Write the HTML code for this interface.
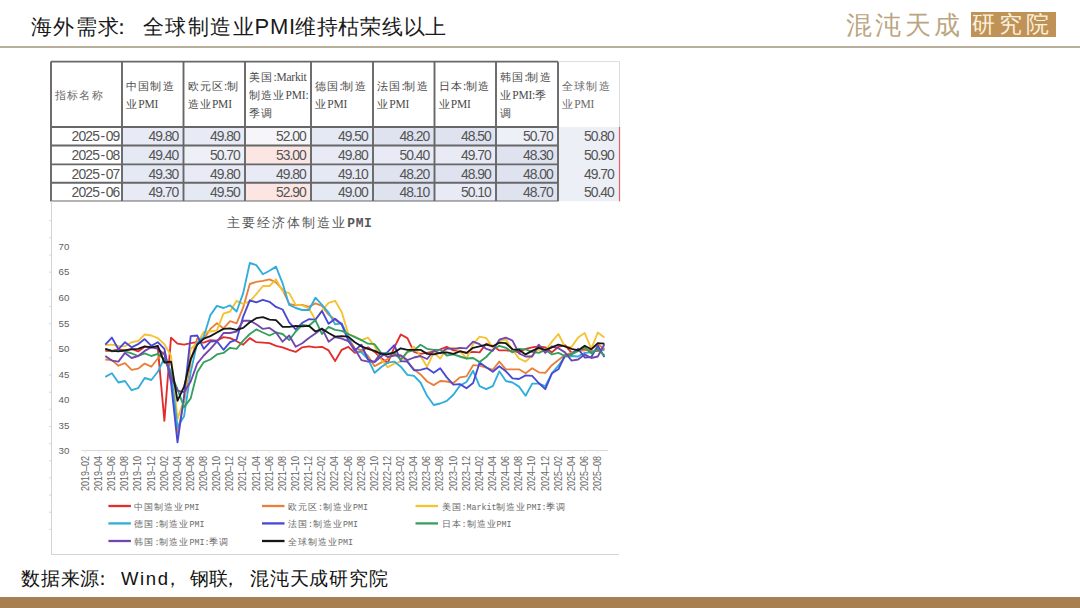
<!DOCTYPE html>
<html><head><meta charset="utf-8">
<style>
html,body{margin:0;padding:0;}
body{width:1080px;height:608px;position:relative;overflow:hidden;background:#ffffff;font-family:"Liberation Sans",sans-serif;}
.t{position:absolute;white-space:nowrap;}
svg{position:absolute;left:0;top:0;}
</style></head><body>
<div class="t" id="title" style="left:31px;top:12px;font-size:21px;color:#1a1a1a;line-height:30px;"><span style="letter-spacing:1.4px">海外需求<span style="position:relative;left:-10px">：</span>全球制造业</span><span style="letter-spacing:0.8px;font-size:22px;margin-left:-0.5px">PMI</span><span style="letter-spacing:0.7px;margin-left:-1px">维持枯荣线以上</span></div>
<div style="position:absolute;left:0;top:46px;width:1080px;height:2px;background:#b8ae9c;"></div>
<div class="t" id="logo1" style="left:846px;top:9px;font-size:26px;line-height:32px;color:#bba67f;font-weight:300;letter-spacing:3.4px;">混沌天成</div>
<div style="position:absolute;left:970.5px;top:12px;width:85px;height:25px;background:#bf9357;"></div>
<div class="t" id="logo2" style="left:972px;top:10px;font-size:23px;line-height:28px;color:#fbf0dc;font-weight:300;letter-spacing:4px;">研究院</div>
<svg width="1080" height="608" viewBox="0 0 1080 608" font-family="Liberation Sans, sans-serif">
<rect x="51" y="61.6" width="568" height="140" fill="#fff"/>
<rect x="558" y="127" width="61" height="74.4" fill="#eceff6"/>
<rect x="122" y="127" width="61.5" height="18.5" fill="#e8ebf5"/>
<rect x="183.5" y="127" width="61.5" height="18.5" fill="#e8ebf5"/>
<rect x="245" y="127" width="66" height="18.5" fill="#f6f6fa"/>
<rect x="311" y="127" width="62" height="18.5" fill="#e5e9f4"/>
<rect x="373" y="127" width="61.5" height="18.5" fill="#dfe3f0"/>
<rect x="434.5" y="127" width="61.5" height="18.5" fill="#dfe3f0"/>
<rect x="496" y="127" width="62" height="18.5" fill="#eef0f8"/>
<rect x="122" y="145.5" width="61.5" height="18.900000000000006" fill="#e5e9f4"/>
<rect x="183.5" y="145.5" width="61.5" height="18.900000000000006" fill="#eef0f8"/>
<rect x="245" y="145.5" width="66" height="18.900000000000006" fill="#fbe6e4"/>
<rect x="311" y="145.5" width="62" height="18.900000000000006" fill="#e8ebf5"/>
<rect x="373" y="145.5" width="61.5" height="18.900000000000006" fill="#e8ebf5"/>
<rect x="434.5" y="145.5" width="61.5" height="18.900000000000006" fill="#e8ebf5"/>
<rect x="496" y="145.5" width="62" height="18.900000000000006" fill="#dfe3f0"/>
<rect x="122" y="164.4" width="61.5" height="18.400000000000006" fill="#e5e9f4"/>
<rect x="183.5" y="164.4" width="61.5" height="18.400000000000006" fill="#e8ebf5"/>
<rect x="245" y="164.4" width="66" height="18.400000000000006" fill="#e8ebf5"/>
<rect x="311" y="164.4" width="62" height="18.400000000000006" fill="#e5e9f4"/>
<rect x="373" y="164.4" width="61.5" height="18.400000000000006" fill="#dfe3f0"/>
<rect x="434.5" y="164.4" width="61.5" height="18.400000000000006" fill="#dfe3f0"/>
<rect x="496" y="164.4" width="62" height="18.400000000000006" fill="#dfe3f0"/>
<rect x="122" y="182.8" width="61.5" height="18.599999999999994" fill="#e8ebf5"/>
<rect x="183.5" y="182.8" width="61.5" height="18.599999999999994" fill="#e5e9f4"/>
<rect x="245" y="182.8" width="66" height="18.599999999999994" fill="#fbe6e4"/>
<rect x="311" y="182.8" width="62" height="18.599999999999994" fill="#e5e9f4"/>
<rect x="373" y="182.8" width="61.5" height="18.599999999999994" fill="#dfe3f0"/>
<rect x="434.5" y="182.8" width="61.5" height="18.599999999999994" fill="#e8ebf5"/>
<rect x="496" y="182.8" width="62" height="18.599999999999994" fill="#dfe3f0"/>
<text x="55" y="98.8" font-size="11" fill="#6a6a6a" font-family="Liberation Serif, serif"><tspan letter-spacing="1.2" font-weight="500">指标名称</tspan></text>
<text x="126" y="89.6" font-size="11" fill="#4a4a4a" font-family="Liberation Serif, serif"><tspan letter-spacing="1.2" font-weight="500">中国制造</tspan></text>
<text x="126" y="108.0" font-size="11" fill="#4a4a4a" font-family="Liberation Serif, serif"><tspan letter-spacing="1.2" font-weight="500">业</tspan><tspan font-size="11.5" letter-spacing="-0.2">PMI</tspan></text>
<text x="187.5" y="89.6" font-size="11" fill="#4a4a4a" font-family="Liberation Serif, serif"><tspan letter-spacing="1.2" font-weight="500">欧元区</tspan><tspan font-size="11.5" letter-spacing="-0.2">:</tspan><tspan letter-spacing="1.2" font-weight="500">制</tspan></text>
<text x="187.5" y="108.0" font-size="11" fill="#4a4a4a" font-family="Liberation Serif, serif"><tspan letter-spacing="1.2" font-weight="500">造业</tspan><tspan font-size="11.5" letter-spacing="-0.2">PMI</tspan></text>
<text x="249" y="80.5" font-size="11" fill="#4a4a4a" font-family="Liberation Serif, serif"><tspan letter-spacing="1.2" font-weight="500">美国</tspan><tspan font-size="11.5" letter-spacing="-0.2">:Markit</tspan></text>
<text x="249" y="98.8" font-size="11" fill="#4a4a4a" font-family="Liberation Serif, serif"><tspan letter-spacing="1.2" font-weight="500">制造业</tspan><tspan font-size="11.5" letter-spacing="-0.2">PMI:</tspan></text>
<text x="249" y="117.1" font-size="11" fill="#4a4a4a" font-family="Liberation Serif, serif"><tspan letter-spacing="1.2" font-weight="500">季调</tspan></text>
<text x="315" y="89.6" font-size="11" fill="#4a4a4a" font-family="Liberation Serif, serif"><tspan letter-spacing="1.2" font-weight="500">德国</tspan><tspan font-size="11.5" letter-spacing="-0.2">:</tspan><tspan letter-spacing="1.2" font-weight="500">制造</tspan></text>
<text x="315" y="108.0" font-size="11" fill="#4a4a4a" font-family="Liberation Serif, serif"><tspan letter-spacing="1.2" font-weight="500">业</tspan><tspan font-size="11.5" letter-spacing="-0.2">PMI</tspan></text>
<text x="377" y="89.6" font-size="11" fill="#4a4a4a" font-family="Liberation Serif, serif"><tspan letter-spacing="1.2" font-weight="500">法国</tspan><tspan font-size="11.5" letter-spacing="-0.2">:</tspan><tspan letter-spacing="1.2" font-weight="500">制造</tspan></text>
<text x="377" y="108.0" font-size="11" fill="#4a4a4a" font-family="Liberation Serif, serif"><tspan letter-spacing="1.2" font-weight="500">业</tspan><tspan font-size="11.5" letter-spacing="-0.2">PMI</tspan></text>
<text x="438.5" y="89.6" font-size="11" fill="#4a4a4a" font-family="Liberation Serif, serif"><tspan letter-spacing="1.2" font-weight="500">日本</tspan><tspan font-size="11.5" letter-spacing="-0.2">:</tspan><tspan letter-spacing="1.2" font-weight="500">制造</tspan></text>
<text x="438.5" y="108.0" font-size="11" fill="#4a4a4a" font-family="Liberation Serif, serif"><tspan letter-spacing="1.2" font-weight="500">业</tspan><tspan font-size="11.5" letter-spacing="-0.2">PMI</tspan></text>
<text x="500" y="80.5" font-size="11" fill="#4a4a4a" font-family="Liberation Serif, serif"><tspan letter-spacing="1.2" font-weight="500">韩国</tspan><tspan font-size="11.5" letter-spacing="-0.2">:</tspan><tspan letter-spacing="1.2" font-weight="500">制造</tspan></text>
<text x="500" y="98.8" font-size="11" fill="#4a4a4a" font-family="Liberation Serif, serif"><tspan letter-spacing="1.2" font-weight="500">业</tspan><tspan font-size="11.5" letter-spacing="-0.2">PMI:</tspan><tspan letter-spacing="1.2" font-weight="500">季</tspan></text>
<text x="500" y="117.1" font-size="11" fill="#4a4a4a" font-family="Liberation Serif, serif"><tspan letter-spacing="1.2" font-weight="500">调</tspan></text>
<text x="562" y="89.6" font-size="11" fill="#6a6a6a" font-family="Liberation Serif, serif"><tspan letter-spacing="1.2" font-weight="500">全球制造</tspan></text>
<text x="562" y="108.0" font-size="11" fill="#6a6a6a" font-family="Liberation Serif, serif"><tspan letter-spacing="1.2" font-weight="500">业</tspan><tspan font-size="11.5" letter-spacing="-0.2">PMI</tspan></text>
<text x="119.5" y="141.4" text-anchor="end" font-size="13.9" letter-spacing="-0.8" fill="#545454">2025<tspan dx="1.2">-</tspan><tspan dx="1.4">09</tspan></text>
<text x="178.3" y="141.4" text-anchor="end" font-size="13.9" letter-spacing="-1.0" fill="#545454">49.80</text>
<text x="239.8" y="141.4" text-anchor="end" font-size="13.9" letter-spacing="-1.0" fill="#545454">49.80</text>
<text x="305.8" y="141.4" text-anchor="end" font-size="13.9" letter-spacing="-1.0" fill="#545454">52.00</text>
<text x="367.8" y="141.4" text-anchor="end" font-size="13.9" letter-spacing="-1.0" fill="#545454">49.50</text>
<text x="429.3" y="141.4" text-anchor="end" font-size="13.9" letter-spacing="-1.0" fill="#545454">48.20</text>
<text x="490.8" y="141.4" text-anchor="end" font-size="13.9" letter-spacing="-1.0" fill="#545454">48.50</text>
<text x="552.8" y="141.4" text-anchor="end" font-size="13.9" letter-spacing="-1.0" fill="#545454">50.70</text>
<text x="613.8" y="141.4" text-anchor="end" font-size="13.9" letter-spacing="-1.0" fill="#545454">50.80</text>
<text x="119.5" y="160.1" text-anchor="end" font-size="13.9" letter-spacing="-0.8" fill="#545454">2025<tspan dx="1.2">-</tspan><tspan dx="1.4">08</tspan></text>
<text x="178.3" y="160.1" text-anchor="end" font-size="13.9" letter-spacing="-1.0" fill="#545454">49.40</text>
<text x="239.8" y="160.1" text-anchor="end" font-size="13.9" letter-spacing="-1.0" fill="#545454">50.70</text>
<text x="305.8" y="160.1" text-anchor="end" font-size="13.9" letter-spacing="-1.0" fill="#545454">53.00</text>
<text x="367.8" y="160.1" text-anchor="end" font-size="13.9" letter-spacing="-1.0" fill="#545454">49.80</text>
<text x="429.3" y="160.1" text-anchor="end" font-size="13.9" letter-spacing="-1.0" fill="#545454">50.40</text>
<text x="490.8" y="160.1" text-anchor="end" font-size="13.9" letter-spacing="-1.0" fill="#545454">49.70</text>
<text x="552.8" y="160.1" text-anchor="end" font-size="13.9" letter-spacing="-1.0" fill="#545454">48.30</text>
<text x="613.8" y="160.1" text-anchor="end" font-size="13.9" letter-spacing="-1.0" fill="#545454">50.90</text>
<text x="119.5" y="178.8" text-anchor="end" font-size="13.9" letter-spacing="-0.8" fill="#545454">2025<tspan dx="1.2">-</tspan><tspan dx="1.4">07</tspan></text>
<text x="178.3" y="178.8" text-anchor="end" font-size="13.9" letter-spacing="-1.0" fill="#545454">49.30</text>
<text x="239.8" y="178.8" text-anchor="end" font-size="13.9" letter-spacing="-1.0" fill="#545454">49.80</text>
<text x="305.8" y="178.8" text-anchor="end" font-size="13.9" letter-spacing="-1.0" fill="#545454">49.80</text>
<text x="367.8" y="178.8" text-anchor="end" font-size="13.9" letter-spacing="-1.0" fill="#545454">49.10</text>
<text x="429.3" y="178.8" text-anchor="end" font-size="13.9" letter-spacing="-1.0" fill="#545454">48.20</text>
<text x="490.8" y="178.8" text-anchor="end" font-size="13.9" letter-spacing="-1.0" fill="#545454">48.90</text>
<text x="552.8" y="178.8" text-anchor="end" font-size="13.9" letter-spacing="-1.0" fill="#545454">48.00</text>
<text x="613.8" y="178.8" text-anchor="end" font-size="13.9" letter-spacing="-1.0" fill="#545454">49.70</text>
<text x="119.5" y="197.3" text-anchor="end" font-size="13.9" letter-spacing="-0.8" fill="#545454">2025<tspan dx="1.2">-</tspan><tspan dx="1.4">06</tspan></text>
<text x="178.3" y="197.3" text-anchor="end" font-size="13.9" letter-spacing="-1.0" fill="#545454">49.70</text>
<text x="239.8" y="197.3" text-anchor="end" font-size="13.9" letter-spacing="-1.0" fill="#545454">49.50</text>
<text x="305.8" y="197.3" text-anchor="end" font-size="13.9" letter-spacing="-1.0" fill="#545454">52.90</text>
<text x="367.8" y="197.3" text-anchor="end" font-size="13.9" letter-spacing="-1.0" fill="#545454">49.00</text>
<text x="429.3" y="197.3" text-anchor="end" font-size="13.9" letter-spacing="-1.0" fill="#545454">48.10</text>
<text x="490.8" y="197.3" text-anchor="end" font-size="13.9" letter-spacing="-1.0" fill="#545454">50.10</text>
<text x="552.8" y="197.3" text-anchor="end" font-size="13.9" letter-spacing="-1.0" fill="#545454">48.70</text>
<text x="613.8" y="197.3" text-anchor="end" font-size="13.9" letter-spacing="-1.0" fill="#545454">50.40</text>
<line x1="51" y1="61.6" x2="51" y2="201.4" stroke="#676767" stroke-width="1.9"/>
<line x1="122" y1="61.6" x2="122" y2="201.4" stroke="#676767" stroke-width="1.9"/>
<line x1="183.5" y1="61.6" x2="183.5" y2="201.4" stroke="#676767" stroke-width="1.9"/>
<line x1="245" y1="61.6" x2="245" y2="201.4" stroke="#676767" stroke-width="1.9"/>
<line x1="311" y1="61.6" x2="311" y2="201.4" stroke="#676767" stroke-width="1.9"/>
<line x1="373" y1="61.6" x2="373" y2="201.4" stroke="#676767" stroke-width="1.9"/>
<line x1="434.5" y1="61.6" x2="434.5" y2="201.4" stroke="#676767" stroke-width="1.9"/>
<line x1="496" y1="61.6" x2="496" y2="201.4" stroke="#676767" stroke-width="1.9"/>
<line x1="558" y1="61.6" x2="558" y2="201.4" stroke="#676767" stroke-width="1.9"/>
<line x1="51" y1="61.6" x2="558" y2="61.6" stroke="#676767" stroke-width="1.9"/>
<line x1="51" y1="127" x2="558" y2="127" stroke="#676767" stroke-width="1.9"/>
<line x1="51" y1="145.5" x2="558" y2="145.5" stroke="#676767" stroke-width="1.9"/>
<line x1="51" y1="164.4" x2="558" y2="164.4" stroke="#676767" stroke-width="1.9"/>
<line x1="51" y1="182.8" x2="558" y2="182.8" stroke="#676767" stroke-width="1.9"/>
<line x1="51" y1="201.4" x2="558" y2="201.4" stroke="#676767" stroke-width="1.9"/>
<line x1="558" y1="61.6" x2="619.5" y2="61.6" stroke="#dcdcdc" stroke-width="1"/>
<line x1="619.5" y1="61.6" x2="619.5" y2="127" stroke="#dcdcdc" stroke-width="1"/>
<line x1="619.5" y1="127" x2="619.5" y2="201.4" stroke="#e06070" stroke-width="1.2"/>
<rect x="51.5" y="201.5" width="567.5" height="352" fill="#fff" stroke="none"/>
<line x1="51.5" y1="201" x2="51.5" y2="555" stroke="#d4d4d4" stroke-width="1"/>
<line x1="51" y1="554.5" x2="619" y2="554.5" stroke="#d4d4d4" stroke-width="1"/>
<line x1="49" y1="220.7" x2="51" y2="220.7" stroke="#d8d8d8" stroke-width="1"/>
<line x1="49" y1="237.8" x2="51" y2="237.8" stroke="#d8d8d8" stroke-width="1"/>
<line x1="49" y1="255.0" x2="51" y2="255.0" stroke="#d8d8d8" stroke-width="1"/>
<line x1="49" y1="272.1" x2="51" y2="272.1" stroke="#d8d8d8" stroke-width="1"/>
<line x1="49" y1="289.3" x2="51" y2="289.3" stroke="#d8d8d8" stroke-width="1"/>
<line x1="49" y1="306.4" x2="51" y2="306.4" stroke="#d8d8d8" stroke-width="1"/>
<line x1="49" y1="323.6" x2="51" y2="323.6" stroke="#d8d8d8" stroke-width="1"/>
<line x1="49" y1="340.8" x2="51" y2="340.8" stroke="#d8d8d8" stroke-width="1"/>
<line x1="49" y1="357.9" x2="51" y2="357.9" stroke="#d8d8d8" stroke-width="1"/>
<line x1="49" y1="375.0" x2="51" y2="375.0" stroke="#d8d8d8" stroke-width="1"/>
<line x1="49" y1="392.2" x2="51" y2="392.2" stroke="#d8d8d8" stroke-width="1"/>
<line x1="49" y1="409.3" x2="51" y2="409.3" stroke="#d8d8d8" stroke-width="1"/>
<line x1="49" y1="426.5" x2="51" y2="426.5" stroke="#d8d8d8" stroke-width="1"/>
<line x1="49" y1="443.6" x2="51" y2="443.6" stroke="#d8d8d8" stroke-width="1"/>
<line x1="49" y1="460.8" x2="51" y2="460.8" stroke="#d8d8d8" stroke-width="1"/>
<line x1="49" y1="477.9" x2="51" y2="477.9" stroke="#d8d8d8" stroke-width="1"/>
<line x1="49" y1="495.1" x2="51" y2="495.1" stroke="#d8d8d8" stroke-width="1"/>
<line x1="49" y1="512.2" x2="51" y2="512.2" stroke="#d8d8d8" stroke-width="1"/>
<line x1="49" y1="529.4" x2="51" y2="529.4" stroke="#d8d8d8" stroke-width="1"/>
<text x="226.5" y="226.5" font-size="13" fill="#595959"><tspan letter-spacing="2.1">主要经济体制造业</tspan><tspan font-family="Liberation Mono, monospace" font-weight="bold" font-size="13" letter-spacing="0.6">PMI</tspan></text>
<text x="69.3" y="454.2" text-anchor="end" font-size="9.7" fill="#606060">30</text>
<text x="69.3" y="428.6" text-anchor="end" font-size="9.7" fill="#606060">35</text>
<text x="69.3" y="403.1" text-anchor="end" font-size="9.7" fill="#606060">40</text>
<text x="69.3" y="377.5" text-anchor="end" font-size="9.7" fill="#606060">45</text>
<text x="69.3" y="352.0" text-anchor="end" font-size="9.7" fill="#606060">50</text>
<text x="69.3" y="326.5" text-anchor="end" font-size="9.7" fill="#606060">55</text>
<text x="69.3" y="300.9" text-anchor="end" font-size="9.7" fill="#606060">60</text>
<text x="69.3" y="275.4" text-anchor="end" font-size="9.7" fill="#606060">65</text>
<text x="69.3" y="249.8" text-anchor="end" font-size="9.7" fill="#606060">70</text>
<line x1="81.7" y1="450.5" x2="608" y2="450.5" stroke="#d9d9d9" stroke-width="1"/>
<line x1="85.6" y1="450.5" x2="85.6" y2="452.5" stroke="#e4e4e4" stroke-width="1"/>
<text transform="translate(88.8,491) rotate(-90)" font-size="10.5" textLength="35" lengthAdjust="spacingAndGlyphs" fill="#666666">2019–02</text>
<line x1="98.7" y1="450.5" x2="98.7" y2="452.5" stroke="#e4e4e4" stroke-width="1"/>
<text transform="translate(101.9,491) rotate(-90)" font-size="10.5" textLength="35" lengthAdjust="spacingAndGlyphs" fill="#666666">2019–04</text>
<line x1="111.9" y1="450.5" x2="111.9" y2="452.5" stroke="#e4e4e4" stroke-width="1"/>
<text transform="translate(115.1,491) rotate(-90)" font-size="10.5" textLength="35" lengthAdjust="spacingAndGlyphs" fill="#666666">2019–06</text>
<line x1="125.0" y1="450.5" x2="125.0" y2="452.5" stroke="#e4e4e4" stroke-width="1"/>
<text transform="translate(128.2,491) rotate(-90)" font-size="10.5" textLength="35" lengthAdjust="spacingAndGlyphs" fill="#666666">2019–08</text>
<line x1="138.1" y1="450.5" x2="138.1" y2="452.5" stroke="#e4e4e4" stroke-width="1"/>
<text transform="translate(141.3,491) rotate(-90)" font-size="10.5" textLength="35" lengthAdjust="spacingAndGlyphs" fill="#666666">2019–10</text>
<line x1="151.3" y1="450.5" x2="151.3" y2="452.5" stroke="#e4e4e4" stroke-width="1"/>
<text transform="translate(154.5,491) rotate(-90)" font-size="10.5" textLength="35" lengthAdjust="spacingAndGlyphs" fill="#666666">2019–12</text>
<line x1="164.4" y1="450.5" x2="164.4" y2="452.5" stroke="#e4e4e4" stroke-width="1"/>
<text transform="translate(167.6,491) rotate(-90)" font-size="10.5" textLength="35" lengthAdjust="spacingAndGlyphs" fill="#666666">2020–02</text>
<line x1="177.5" y1="450.5" x2="177.5" y2="452.5" stroke="#e4e4e4" stroke-width="1"/>
<text transform="translate(180.7,491) rotate(-90)" font-size="10.5" textLength="35" lengthAdjust="spacingAndGlyphs" fill="#666666">2020–04</text>
<line x1="190.7" y1="450.5" x2="190.7" y2="452.5" stroke="#e4e4e4" stroke-width="1"/>
<text transform="translate(193.9,491) rotate(-90)" font-size="10.5" textLength="35" lengthAdjust="spacingAndGlyphs" fill="#666666">2020–06</text>
<line x1="203.8" y1="450.5" x2="203.8" y2="452.5" stroke="#e4e4e4" stroke-width="1"/>
<text transform="translate(207.0,491) rotate(-90)" font-size="10.5" textLength="35" lengthAdjust="spacingAndGlyphs" fill="#666666">2020–08</text>
<line x1="216.9" y1="450.5" x2="216.9" y2="452.5" stroke="#e4e4e4" stroke-width="1"/>
<text transform="translate(220.1,491) rotate(-90)" font-size="10.5" textLength="35" lengthAdjust="spacingAndGlyphs" fill="#666666">2020–10</text>
<line x1="230.1" y1="450.5" x2="230.1" y2="452.5" stroke="#e4e4e4" stroke-width="1"/>
<text transform="translate(233.3,491) rotate(-90)" font-size="10.5" textLength="35" lengthAdjust="spacingAndGlyphs" fill="#666666">2020–12</text>
<line x1="243.2" y1="450.5" x2="243.2" y2="452.5" stroke="#e4e4e4" stroke-width="1"/>
<text transform="translate(246.4,491) rotate(-90)" font-size="10.5" textLength="35" lengthAdjust="spacingAndGlyphs" fill="#666666">2021–02</text>
<line x1="256.3" y1="450.5" x2="256.3" y2="452.5" stroke="#e4e4e4" stroke-width="1"/>
<text transform="translate(259.5,491) rotate(-90)" font-size="10.5" textLength="35" lengthAdjust="spacingAndGlyphs" fill="#666666">2021–04</text>
<line x1="269.5" y1="450.5" x2="269.5" y2="452.5" stroke="#e4e4e4" stroke-width="1"/>
<text transform="translate(272.7,491) rotate(-90)" font-size="10.5" textLength="35" lengthAdjust="spacingAndGlyphs" fill="#666666">2021–06</text>
<line x1="282.6" y1="450.5" x2="282.6" y2="452.5" stroke="#e4e4e4" stroke-width="1"/>
<text transform="translate(285.8,491) rotate(-90)" font-size="10.5" textLength="35" lengthAdjust="spacingAndGlyphs" fill="#666666">2021–08</text>
<line x1="295.7" y1="450.5" x2="295.7" y2="452.5" stroke="#e4e4e4" stroke-width="1"/>
<text transform="translate(298.9,491) rotate(-90)" font-size="10.5" textLength="35" lengthAdjust="spacingAndGlyphs" fill="#666666">2021–10</text>
<line x1="308.9" y1="450.5" x2="308.9" y2="452.5" stroke="#e4e4e4" stroke-width="1"/>
<text transform="translate(312.1,491) rotate(-90)" font-size="10.5" textLength="35" lengthAdjust="spacingAndGlyphs" fill="#666666">2021–12</text>
<line x1="322.0" y1="450.5" x2="322.0" y2="452.5" stroke="#e4e4e4" stroke-width="1"/>
<text transform="translate(325.2,491) rotate(-90)" font-size="10.5" textLength="35" lengthAdjust="spacingAndGlyphs" fill="#666666">2022–02</text>
<line x1="335.1" y1="450.5" x2="335.1" y2="452.5" stroke="#e4e4e4" stroke-width="1"/>
<text transform="translate(338.3,491) rotate(-90)" font-size="10.5" textLength="35" lengthAdjust="spacingAndGlyphs" fill="#666666">2022–04</text>
<line x1="348.3" y1="450.5" x2="348.3" y2="452.5" stroke="#e4e4e4" stroke-width="1"/>
<text transform="translate(351.5,491) rotate(-90)" font-size="10.5" textLength="35" lengthAdjust="spacingAndGlyphs" fill="#666666">2022–06</text>
<line x1="361.4" y1="450.5" x2="361.4" y2="452.5" stroke="#e4e4e4" stroke-width="1"/>
<text transform="translate(364.6,491) rotate(-90)" font-size="10.5" textLength="35" lengthAdjust="spacingAndGlyphs" fill="#666666">2022–08</text>
<line x1="374.6" y1="450.5" x2="374.6" y2="452.5" stroke="#e4e4e4" stroke-width="1"/>
<text transform="translate(377.8,491) rotate(-90)" font-size="10.5" textLength="35" lengthAdjust="spacingAndGlyphs" fill="#666666">2022–10</text>
<line x1="387.7" y1="450.5" x2="387.7" y2="452.5" stroke="#e4e4e4" stroke-width="1"/>
<text transform="translate(390.9,491) rotate(-90)" font-size="10.5" textLength="35" lengthAdjust="spacingAndGlyphs" fill="#666666">2022–12</text>
<line x1="400.8" y1="450.5" x2="400.8" y2="452.5" stroke="#e4e4e4" stroke-width="1"/>
<text transform="translate(404.0,491) rotate(-90)" font-size="10.5" textLength="35" lengthAdjust="spacingAndGlyphs" fill="#666666">2023–02</text>
<line x1="414.0" y1="450.5" x2="414.0" y2="452.5" stroke="#e4e4e4" stroke-width="1"/>
<text transform="translate(417.2,491) rotate(-90)" font-size="10.5" textLength="35" lengthAdjust="spacingAndGlyphs" fill="#666666">2023–04</text>
<line x1="427.1" y1="450.5" x2="427.1" y2="452.5" stroke="#e4e4e4" stroke-width="1"/>
<text transform="translate(430.3,491) rotate(-90)" font-size="10.5" textLength="35" lengthAdjust="spacingAndGlyphs" fill="#666666">2023–06</text>
<line x1="440.2" y1="450.5" x2="440.2" y2="452.5" stroke="#e4e4e4" stroke-width="1"/>
<text transform="translate(443.4,491) rotate(-90)" font-size="10.5" textLength="35" lengthAdjust="spacingAndGlyphs" fill="#666666">2023–08</text>
<line x1="453.4" y1="450.5" x2="453.4" y2="452.5" stroke="#e4e4e4" stroke-width="1"/>
<text transform="translate(456.6,491) rotate(-90)" font-size="10.5" textLength="35" lengthAdjust="spacingAndGlyphs" fill="#666666">2023–10</text>
<line x1="466.5" y1="450.5" x2="466.5" y2="452.5" stroke="#e4e4e4" stroke-width="1"/>
<text transform="translate(469.7,491) rotate(-90)" font-size="10.5" textLength="35" lengthAdjust="spacingAndGlyphs" fill="#666666">2023–12</text>
<line x1="479.6" y1="450.5" x2="479.6" y2="452.5" stroke="#e4e4e4" stroke-width="1"/>
<text transform="translate(482.8,491) rotate(-90)" font-size="10.5" textLength="35" lengthAdjust="spacingAndGlyphs" fill="#666666">2024–02</text>
<line x1="492.8" y1="450.5" x2="492.8" y2="452.5" stroke="#e4e4e4" stroke-width="1"/>
<text transform="translate(496.0,491) rotate(-90)" font-size="10.5" textLength="35" lengthAdjust="spacingAndGlyphs" fill="#666666">2024–04</text>
<line x1="505.9" y1="450.5" x2="505.9" y2="452.5" stroke="#e4e4e4" stroke-width="1"/>
<text transform="translate(509.1,491) rotate(-90)" font-size="10.5" textLength="35" lengthAdjust="spacingAndGlyphs" fill="#666666">2024–06</text>
<line x1="519.0" y1="450.5" x2="519.0" y2="452.5" stroke="#e4e4e4" stroke-width="1"/>
<text transform="translate(522.2,491) rotate(-90)" font-size="10.5" textLength="35" lengthAdjust="spacingAndGlyphs" fill="#666666">2024–08</text>
<line x1="532.2" y1="450.5" x2="532.2" y2="452.5" stroke="#e4e4e4" stroke-width="1"/>
<text transform="translate(535.4,491) rotate(-90)" font-size="10.5" textLength="35" lengthAdjust="spacingAndGlyphs" fill="#666666">2024–10</text>
<line x1="545.3" y1="450.5" x2="545.3" y2="452.5" stroke="#e4e4e4" stroke-width="1"/>
<text transform="translate(548.5,491) rotate(-90)" font-size="10.5" textLength="35" lengthAdjust="spacingAndGlyphs" fill="#666666">2024–12</text>
<line x1="558.4" y1="450.5" x2="558.4" y2="452.5" stroke="#e4e4e4" stroke-width="1"/>
<text transform="translate(561.6,491) rotate(-90)" font-size="10.5" textLength="35" lengthAdjust="spacingAndGlyphs" fill="#666666">2025–02</text>
<line x1="571.6" y1="450.5" x2="571.6" y2="452.5" stroke="#e4e4e4" stroke-width="1"/>
<text transform="translate(574.8,491) rotate(-90)" font-size="10.5" textLength="35" lengthAdjust="spacingAndGlyphs" fill="#666666">2025–04</text>
<line x1="584.7" y1="450.5" x2="584.7" y2="452.5" stroke="#e4e4e4" stroke-width="1"/>
<text transform="translate(587.9,491) rotate(-90)" font-size="10.5" textLength="35" lengthAdjust="spacingAndGlyphs" fill="#666666">2025–06</text>
<line x1="597.8" y1="450.5" x2="597.8" y2="452.5" stroke="#e4e4e4" stroke-width="1"/>
<text transform="translate(601.0,491) rotate(-90)" font-size="10.5" textLength="35" lengthAdjust="spacingAndGlyphs" fill="#666666">2025–08</text>
<polyline points="105.3,350.9 111.9,350.9 118.4,349.3 125.0,350.4 131.6,348.8 138.1,351.4 144.7,346.8 151.3,346.8 157.8,347.8 164.4,420.8 171.0,337.6 177.5,343.7 184.1,344.7 190.7,343.2 197.2,342.2 203.8,342.7 210.4,340.1 216.9,340.6 223.5,337.1 230.1,338.1 236.6,341.2 243.2,344.7 249.8,338.1 256.3,342.2 262.9,342.7 269.5,343.2 276.0,345.8 282.6,347.3 289.2,349.8 295.7,351.9 302.3,347.3 308.9,346.3 315.4,347.3 322.0,346.8 328.6,350.4 335.1,361.1 341.7,349.8 348.3,346.8 354.8,352.9 361.4,350.9 368.0,347.3 374.6,351.9 381.1,358.0 387.7,363.1 394.3,347.3 400.8,334.5 407.4,338.1 414.0,351.9 420.5,353.9 427.1,352.9 433.7,351.4 440.2,349.3 446.8,346.8 453.4,350.4 459.9,350.9 466.5,352.9 473.1,351.9 479.6,352.4 486.2,343.7 492.8,345.8 499.3,350.4 505.9,350.4 512.5,350.9 519.0,352.4 525.6,348.8 532.2,347.3 538.7,346.3 545.3,347.3 551.9,352.4 558.4,346.8 565.0,345.2 571.6,352.9 578.1,350.4 584.7,349.3 591.3,351.4 597.8,350.9 604.4,348.8" fill="none" stroke="#e32c2c" stroke-width="1.85" stroke-linejoin="round"/>
<polyline points="105.3,359.5 111.9,360.1 118.4,365.7 125.0,363.1 131.6,369.8 138.1,368.7 144.7,363.6 151.3,366.7 157.8,358.5 164.4,351.9 171.0,375.9 177.5,432.6 184.1,401.9 190.7,361.1 197.2,338.6 203.8,339.1 210.4,328.9 216.9,323.3 223.5,328.4 230.1,321.2 236.6,323.3 243.2,307.4 249.8,284.0 256.3,281.9 262.9,280.9 269.5,279.4 276.0,282.4 282.6,289.6 289.2,303.9 295.7,305.4 302.3,304.9 308.9,306.9 315.4,303.4 322.0,305.9 328.6,314.6 335.1,319.7 341.7,324.3 348.3,337.1 354.8,348.8 361.4,349.8 368.0,356.0 374.6,366.2 381.1,362.6 387.7,359.0 394.3,353.9 400.8,355.5 407.4,361.6 414.0,369.3 420.5,374.4 427.1,381.5 433.7,385.1 440.2,381.0 446.8,381.5 453.4,383.0 459.9,377.4 466.5,376.4 473.1,365.2 479.6,365.7 486.2,367.7 492.8,369.8 499.3,361.6 505.9,369.3 512.5,369.3 519.0,369.3 525.6,373.3 532.2,368.2 538.7,372.3 545.3,372.8 551.9,365.2 558.4,360.1 565.0,355.0 571.6,352.9 578.1,350.9 584.7,350.4 591.3,348.8 597.8,344.2 604.4,348.8" fill="none" stroke="#e8803a" stroke-width="1.85" stroke-linejoin="round"/>
<polyline points="105.3,345.2 111.9,344.7 118.4,345.8 125.0,346.3 131.6,342.2 138.1,341.2 144.7,334.5 151.3,335.5 157.8,338.1 164.4,344.2 171.0,355.5 177.5,418.8 184.1,399.9 190.7,348.8 197.2,343.2 203.8,332.0 210.4,331.5 216.9,330.4 223.5,313.6 230.1,311.5 236.6,300.8 243.2,303.9 249.8,301.3 256.3,294.2 262.9,286.0 269.5,286.0 276.0,279.4 282.6,291.1 289.2,293.1 295.7,304.9 302.3,305.4 308.9,308.5 315.4,319.7 322.0,310.5 328.6,302.8 335.1,300.8 341.7,312.0 348.3,334.0 354.8,336.6 361.4,340.1 368.0,337.6 374.6,345.8 381.1,359.5 387.7,367.2 394.3,363.6 400.8,361.6 407.4,351.9 414.0,346.8 420.5,356.0 427.1,366.7 433.7,352.9 440.2,358.5 446.8,348.8 453.4,347.8 459.9,350.9 466.5,358.5 473.1,344.2 479.6,336.6 486.2,338.1 492.8,347.8 499.3,341.2 505.9,339.6 512.5,349.8 519.0,358.5 525.6,361.6 532.2,355.5 538.7,349.3 545.3,350.9 551.9,341.7 558.4,334.0 565.0,346.8 571.6,346.8 578.1,337.6 584.7,333.0 591.3,348.8 597.8,332.5 604.4,337.6" fill="none" stroke="#f5c232" stroke-width="1.85" stroke-linejoin="round"/>
<polyline points="105.3,376.9 111.9,373.3 118.4,382.5 125.0,381.0 131.6,390.2 138.1,388.2 144.7,377.9 151.3,380.0 157.8,371.8 164.4,358.0 171.0,371.3 177.5,427.0 184.1,416.2 190.7,372.3 197.2,342.7 203.8,336.6 210.4,315.1 216.9,305.9 223.5,308.0 230.1,305.4 236.6,311.5 243.2,293.1 249.8,263.0 256.3,265.1 262.9,274.2 269.5,270.7 276.0,266.6 282.6,283.4 289.2,304.9 295.7,308.0 302.3,310.0 308.9,310.0 315.4,297.7 322.0,304.9 328.6,312.6 335.1,324.3 341.7,323.3 348.3,337.6 354.8,351.4 361.4,352.4 368.0,359.0 374.6,372.8 381.1,367.2 387.7,362.6 394.3,361.6 400.8,366.7 407.4,374.9 414.0,375.9 420.5,382.5 427.1,395.8 433.7,405.0 440.2,403.5 446.8,400.9 453.4,394.8 459.9,385.6 466.5,382.0 473.1,370.8 479.6,386.1 486.2,389.2 492.8,386.1 499.3,371.3 505.9,381.0 512.5,382.5 519.0,386.6 525.6,395.8 532.2,383.6 538.7,383.6 545.3,386.1 551.9,373.3 558.4,365.7 565.0,356.5 571.6,356.0 578.1,356.5 584.7,352.9 591.3,352.4 597.8,348.8 604.4,350.4" fill="none" stroke="#30addb" stroke-width="1.85" stroke-linejoin="round"/>
<polyline points="105.3,344.7 111.9,337.6 118.4,349.3 125.0,342.2 131.6,347.3 138.1,344.2 144.7,339.1 151.3,345.8 157.8,342.2 164.4,348.8 171.0,382.5 177.5,442.3 184.1,395.8 190.7,336.1 197.2,335.5 203.8,348.8 210.4,341.7 216.9,341.2 223.5,349.8 230.1,342.2 236.6,339.6 243.2,316.6 249.8,300.3 256.3,302.3 262.9,299.8 269.5,301.8 276.0,306.9 282.6,309.5 289.2,322.3 295.7,329.4 302.3,322.8 308.9,319.2 315.4,319.7 322.0,311.0 328.6,323.8 335.1,318.7 341.7,324.3 348.3,340.6 354.8,350.4 361.4,344.7 368.0,359.5 374.6,362.1 381.1,356.5 387.7,351.9 394.3,345.2 400.8,361.1 407.4,361.6 414.0,370.3 420.5,369.8 427.1,368.2 433.7,372.8 440.2,368.2 446.8,377.4 453.4,384.6 459.9,384.1 466.5,388.2 473.1,383.0 479.6,362.6 486.2,367.2 492.8,371.8 499.3,366.2 505.9,371.3 512.5,378.4 519.0,379.0 525.6,375.4 532.2,375.9 538.7,383.0 545.3,389.2 551.9,373.3 558.4,369.3 565.0,355.5 571.6,354.4 578.1,348.8 584.7,357.5 591.3,357.0 597.8,345.8 604.4,357.0" fill="none" stroke="#4848d4" stroke-width="1.85" stroke-linejoin="round"/>
<polyline points="105.3,348.8 111.9,351.4 118.4,350.9 125.0,351.4 131.6,353.4 138.1,356.0 144.7,353.4 151.3,356.0 157.8,353.9 164.4,359.0 171.0,374.4 177.5,389.2 184.1,407.1 190.7,398.4 197.2,372.3 203.8,362.1 210.4,359.5 216.9,354.4 223.5,352.9 230.1,347.8 236.6,348.8 243.2,340.6 249.8,334.0 256.3,329.4 262.9,332.5 269.5,335.5 276.0,332.5 282.6,334.0 289.2,340.1 295.7,331.5 302.3,324.8 308.9,325.8 315.4,320.2 322.0,334.0 328.6,326.9 335.1,329.9 341.7,330.9 348.3,334.0 354.8,337.1 361.4,340.1 368.0,343.7 374.6,344.2 381.1,352.9 387.7,353.4 394.3,353.4 400.8,359.5 407.4,351.9 414.0,350.4 420.5,344.7 427.1,348.8 433.7,349.8 440.2,349.8 446.8,355.5 453.4,354.4 459.9,356.5 466.5,358.5 473.1,358.0 479.6,362.1 486.2,357.0 492.8,349.8 499.3,345.8 505.9,347.8 512.5,352.4 519.0,348.8 525.6,349.3 532.2,351.9 538.7,352.9 545.3,349.8 551.9,354.4 558.4,352.9 565.0,356.0 571.6,354.4 578.1,350.9 584.7,347.3 591.3,353.4 597.8,349.3 604.4,355.5" fill="none" stroke="#34a05e" stroke-width="1.85" stroke-linejoin="round"/>
<polyline points="105.3,356.0 111.9,360.6 118.4,361.6 125.0,352.9 131.6,358.0 138.1,356.0 144.7,350.9 151.3,347.3 157.8,348.8 164.4,354.4 171.0,377.4 177.5,390.7 184.1,392.2 190.7,381.5 197.2,363.6 203.8,355.5 210.4,348.8 216.9,341.7 223.5,333.0 230.1,333.0 236.6,331.5 243.2,320.7 249.8,320.7 256.3,324.3 262.9,328.9 269.5,327.9 276.0,332.5 282.6,341.7 289.2,335.5 295.7,346.8 302.3,343.2 308.9,338.1 315.4,333.5 322.0,328.4 328.6,341.7 335.1,337.1 341.7,338.6 348.3,341.2 354.8,348.8 361.4,360.1 368.0,361.6 374.6,361.6 381.1,352.9 387.7,357.0 394.3,355.5 400.8,355.5 407.4,360.1 414.0,357.5 420.5,356.0 427.1,359.0 433.7,350.9 440.2,353.4 446.8,348.3 453.4,348.8 459.9,347.8 466.5,348.3 473.1,341.7 479.6,344.2 486.2,348.8 492.8,350.9 499.3,339.6 505.9,337.6 512.5,340.6 519.0,353.4 525.6,356.5 532.2,356.5 538.7,344.7 545.3,352.9 551.9,346.3 558.4,348.3 565.0,352.4 571.6,360.6 578.1,359.5 584.7,354.4 591.3,358.0 597.8,356.5 604.4,344.2" fill="none" stroke="#7246ac" stroke-width="1.85" stroke-linejoin="round"/>
<polyline points="105.3,348.8 111.9,350.9 118.4,351.4 125.0,350.4 131.6,349.3 138.1,348.8 144.7,346.3 151.3,347.3 157.8,345.8 164.4,362.6 171.0,361.6 177.5,400.9 184.1,386.6 190.7,359.0 197.2,344.7 203.8,338.6 210.4,336.1 216.9,332.5 223.5,328.9 230.1,328.4 236.6,329.9 243.2,327.9 249.8,322.3 256.3,318.2 262.9,317.2 269.5,319.7 276.0,320.2 282.6,326.9 289.2,326.9 295.7,325.8 302.3,326.3 308.9,325.8 315.4,331.5 322.0,328.9 328.6,333.0 335.1,336.6 341.7,336.1 348.3,336.6 354.8,342.2 361.4,346.3 368.0,348.8 374.6,350.9 381.1,353.9 387.7,354.4 394.3,352.4 400.8,348.3 407.4,349.8 414.0,349.8 420.5,349.8 427.1,353.9 433.7,354.4 440.2,352.9 446.8,352.4 453.4,353.9 459.9,351.4 466.5,352.9 473.1,347.8 479.6,346.3 486.2,344.7 492.8,346.3 499.3,342.7 505.9,343.2 512.5,349.3 519.0,349.8 525.6,354.4 532.2,350.9 538.7,347.8 545.3,349.8 551.9,347.3 558.4,344.7 565.0,346.3 571.6,348.8 578.1,350.4 584.7,345.8 591.3,349.3 597.8,343.2 604.4,343.7" fill="none" stroke="#161616" stroke-width="1.85" stroke-linejoin="round"/>
<line x1="108.4" y1="506" x2="130.9" y2="506" stroke="#e32c2c" stroke-width="2.3"/>
<text x="134.4" y="509.6" font-size="9" fill="#6a6a6a" font-family="Liberation Mono, monospace"><tspan letter-spacing="1">中国制造业</tspan><tspan font-size="8.33" letter-spacing="0">PMI</tspan></text>
<line x1="262" y1="506" x2="284.5" y2="506" stroke="#e8803a" stroke-width="2.3"/>
<text x="288" y="509.6" font-size="9" fill="#6a6a6a" font-family="Liberation Mono, monospace"><tspan letter-spacing="1">欧元区</tspan><tspan font-size="8.33" letter-spacing="0">:</tspan><tspan letter-spacing="1">制造业</tspan><tspan font-size="8.33" letter-spacing="0">PMI</tspan></text>
<line x1="415.5" y1="506" x2="438.0" y2="506" stroke="#f5c232" stroke-width="2.3"/>
<text x="441.5" y="509.6" font-size="9" fill="#6a6a6a" font-family="Liberation Mono, monospace"><tspan letter-spacing="1">美国</tspan><tspan font-size="8.33" letter-spacing="0">:Markit</tspan><tspan letter-spacing="1">制造业</tspan><tspan font-size="8.33" letter-spacing="0">PMI:</tspan><tspan letter-spacing="1">季调</tspan></text>
<line x1="108.4" y1="523.4" x2="130.9" y2="523.4" stroke="#30addb" stroke-width="2.3"/>
<text x="134.4" y="527.0" font-size="9" fill="#6a6a6a" font-family="Liberation Mono, monospace"><tspan letter-spacing="1">德国</tspan><tspan font-size="8.33" letter-spacing="0">:</tspan><tspan letter-spacing="1">制造业</tspan><tspan font-size="8.33" letter-spacing="0">PMI</tspan></text>
<line x1="262" y1="523.4" x2="284.5" y2="523.4" stroke="#4848d4" stroke-width="2.3"/>
<text x="288" y="527.0" font-size="9" fill="#6a6a6a" font-family="Liberation Mono, monospace"><tspan letter-spacing="1">法国</tspan><tspan font-size="8.33" letter-spacing="0">:</tspan><tspan letter-spacing="1">制造业</tspan><tspan font-size="8.33" letter-spacing="0">PMI</tspan></text>
<line x1="415.5" y1="523.4" x2="438.0" y2="523.4" stroke="#34a05e" stroke-width="2.3"/>
<text x="441.5" y="527.0" font-size="9" fill="#6a6a6a" font-family="Liberation Mono, monospace"><tspan letter-spacing="1">日本</tspan><tspan font-size="8.33" letter-spacing="0">:</tspan><tspan letter-spacing="1">制造业</tspan><tspan font-size="8.33" letter-spacing="0">PMI</tspan></text>
<line x1="108.4" y1="541" x2="130.9" y2="541" stroke="#7246ac" stroke-width="2.3"/>
<text x="134.4" y="544.6" font-size="9" fill="#6a6a6a" font-family="Liberation Mono, monospace"><tspan letter-spacing="1">韩国</tspan><tspan font-size="8.33" letter-spacing="0">:</tspan><tspan letter-spacing="1">制造业</tspan><tspan font-size="8.33" letter-spacing="0">PMI:</tspan><tspan letter-spacing="1">季调</tspan></text>
<line x1="262" y1="541" x2="284.5" y2="541" stroke="#161616" stroke-width="2.3"/>
<text x="288" y="544.6" font-size="9" fill="#6a6a6a" font-family="Liberation Mono, monospace"><tspan letter-spacing="1">全球制造业</tspan><tspan font-size="8.33" letter-spacing="0">PMI</tspan></text>
</svg>
<div class="t" style="left:21px;top:566px;font-size:18.5px;letter-spacing:0.8px;line-height:26px;color:#111;">数据来源<span style="position:relative;left:-7px">：</span></div>
<div class="t" style="left:121px;top:566px;font-size:18.5px;letter-spacing:1.6px;line-height:26px;color:#111;">Wind</div>
<div class="t" style="left:170px;top:566px;font-size:18.5px;letter-spacing:0.7px;line-height:26px;color:#111;"><span style="position:relative;left:-7.5px">，</span>钢联<span style="position:relative;left:-8.5px">，</span><span style="margin-left:1.5px">混沌天成研究院</span></div>
<div style="position:absolute;left:0;top:597px;width:1080px;height:11px;background:#a8804f;"></div>
</body></html>
